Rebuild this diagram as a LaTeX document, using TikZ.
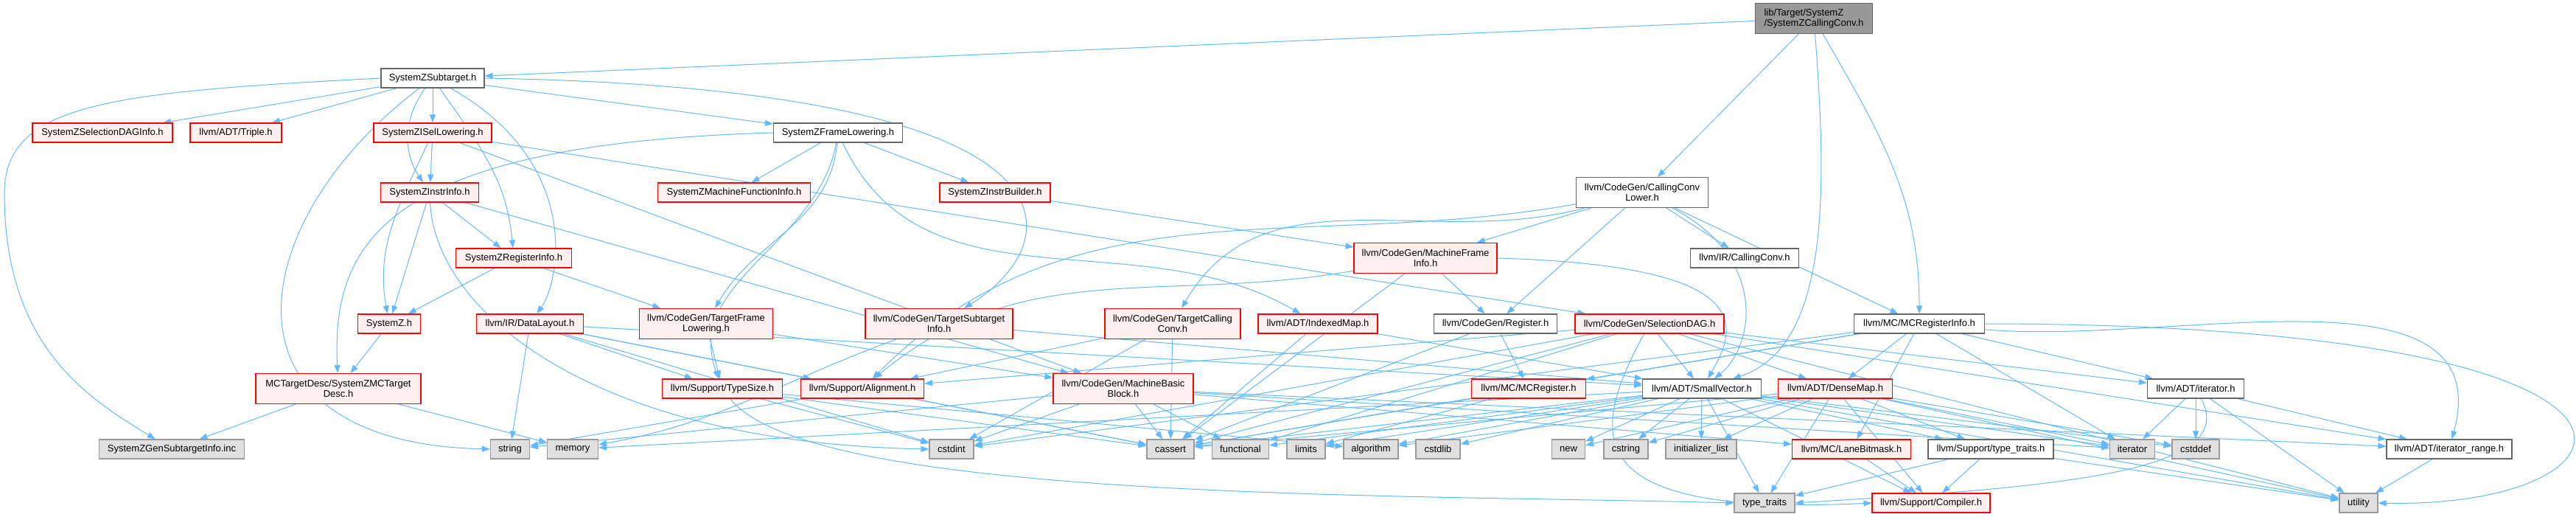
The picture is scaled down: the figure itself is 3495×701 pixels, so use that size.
\documentclass[tikz,border=0pt]{standalone}
\usepackage{fontspec}
\setmainfont{Liberation Sans}
\usetikzlibrary{arrows.meta, backgrounds}
\usepackage{xcolor}
\definecolor{edgeblue}{RGB}{99,184,255}
\definecolor{truncfill}{RGB}{255,240,240}
\definecolor{sysfill}{RGB}{224,224,224}
\definecolor{sysline}{RGB}{153,153,153}
\definecolor{fileline}{RGB}{102,102,102}
\definecolor{rootfill}{RGB}{153,153,153}

\begin{document}
\begin{tikzpicture}[x=1pt, y=-1pt,
      hbox/.style={rectangle, draw, line width=1.1pt, inner sep=0pt,
                   minimum height=26pt, align=center,
                   font=\fontsize{13}{14.5}\selectfont},
      redbox/.style={hbox, draw=red, fill=truncfill},
      whitebox/.style={hbox, draw=fileline, fill=white},
      graybox/.style={hbox, draw=sysline, fill=sysfill},
      rootbox/.style={hbox, draw=fileline, fill=rootfill, align=left},
      tall/.style={minimum height=41pt},
      arr/.style={-{Triangle[length=11pt, width=8pt]}, edgeblue, line width=1pt}
    ]
    \useasboundingbox (0,0) rectangle (3495,701);

    % rank 0 and 1
    \node[rootbox, tall, minimum width=159pt] (root) at (2461,25) {lib/Target/SystemZ\\/SystemZCallingConv.h};
    \node[whitebox, minimum width=140pt] (sub) at (587,106) {SystemZSubtarget.h};

    % rank 2
    \node[redbox, minimum width=190pt] (sdinfo) at (139,180) {SystemZSelectionDAGInfo.h};
    \node[redbox, minimum width=124pt] (triple) at (320,180) {llvm/ADT/Triple.h};
    \node[redbox, minimum width=160pt] (isel) at (587,180) {SystemZISelLowering.h};
    \node[whitebox, minimum width=175pt] (frame) at (1137,180) {SystemZFrameLowering.h};

    % rank 3
    \node[redbox, minimum width=133pt] (instr) at (583,261) {SystemZInstrInfo.h};
    \node[redbox, minimum width=207pt] (mfuncinfo) at (996,261) {SystemZMachineFunctionInfo.h};
    \node[redbox, minimum width=150pt] (ibuild) at (1350,261) {SystemZInstrBuilder.h};
    \node[whitebox, tall, minimum width=179pt] (ccl) at (2228,261) {llvm/CodeGen/CallingConv\\Lower.h};

    % rank 4
    \node[redbox, minimum width=157pt] (reginfo) at (697,350) {SystemZRegisterInfo.h};
    \node[redbox, tall, minimum width=194pt] (mframe) at (1934,350) {llvm/CodeGen/MachineFrame\\Info.h};
    \node[whitebox, minimum width=147pt] (irccv) at (2367,350) {llvm/IR/CallingConv.h};

    % rank 5
    \node[redbox, minimum width=85pt] (szh) at (528,439) {SystemZ.h};
    \node[redbox, minimum width=145pt] (dlayout) at (719,439) {llvm/IR/DataLayout.h};
    \node[redbox, tall, minimum width=181pt] (tfl) at (958,439) {llvm/CodeGen/TargetFrame\\Lowering.h};
    \node[redbox, tall, minimum width=200pt] (tsi) at (1274,439) {llvm/CodeGen/TargetSubtarget\\Info.h};
    \node[redbox, tall, minimum width=184pt] (tcc) at (1591,439) {llvm/CodeGen/TargetCalling\\Conv.h};
    \node[redbox, minimum width=162pt] (imap) at (1788,439) {llvm/ADT/IndexedMap.h};
    \node[whitebox, minimum width=167pt] (reg) at (2029,439) {llvm/CodeGen/Register.h};
    \node[redbox, minimum width=202pt] (sdag) at (2238,439) {llvm/CodeGen/SelectionDAG.h};
    \node[whitebox, minimum width=177pt] (mcri) at (2604,439) {llvm/MC/MCRegisterInfo.h};

    % rank 6
    \node[redbox, tall, minimum width=224pt] (mctd) at (459,527) {MCTargetDesc/SystemZMCTarget\\Desc.h};
    \node[redbox, minimum width=163pt] (tsize) at (980,527) {llvm/Support/TypeSize.h};
    \node[redbox, minimum width=167pt] (align) at (1170,527) {llvm/Support/Alignment.h};
    \node[redbox, tall, minimum width=190pt] (mbb) at (1524,527) {llvm/CodeGen/MachineBasic\\Block.h};
    \node[redbox, minimum width=155pt] (mcreg) at (2074,527) {llvm/MC/MCRegister.h};
    \node[whitebox, minimum width=161pt] (svec) at (2309,527) {llvm/ADT/SmallVector.h};
    \node[redbox, minimum width=155pt] (dmap) at (2490,527) {llvm/ADT/DenseMap.h};
    \node[whitebox, minimum width=131pt] (iterh) at (2979,527) {llvm/ADT/iterator.h};

    % rank 7
    \node[graybox, minimum width=197pt] (geninc) at (233,609) {SystemZGenSubtargetInfo.inc};
    \node[graybox, minimum width=53pt] (string) at (692,609) {string};
    \node[graybox, minimum width=69pt] (memory) at (777,609) {memory};
    \node[graybox, minimum width=60pt] (cstdint) at (1291,609) {cstdint};
    \node[graybox, minimum width=64pt] (cassert) at (1588,609) {cassert};
    \node[graybox, minimum width=77pt] (functional) at (1683,609) {functional};
    \node[graybox, minimum width=52pt] (limits) at (1772,609) {limits};
    \node[graybox, minimum width=74pt] (algorithm) at (1860,609) {algorithm};
    \node[graybox, minimum width=60pt] (cstdlib) at (1951,609) {cstdlib};
    \node[graybox, minimum width=45pt] (new) at (2128,609) {new};
    \node[graybox, minimum width=60pt] (cstring) at (2206,609) {cstring};
    \node[graybox, minimum width=96pt] (initlist) at (2308,609) {initializer\_list};
    \node[redbox, minimum width=161pt] (lanebm) at (2512,609) {llvm/MC/LaneBitmask.h};
    \node[whitebox, minimum width=170pt] (lltt) at (2701,609) {llvm/Support/type\_traits.h};
    \node[graybox, minimum width=61pt] (iterator) at (2893,609) {iterator};
    \node[graybox, minimum width=64pt] (cstddef) at (2979,609) {cstddef};
    \node[whitebox, minimum width=170pt] (iterrange) at (3323,609) {llvm/ADT/iterator\_range.h};

    % rank 8
    \node[graybox, minimum width=82pt] (typetraits) at (2394,682) {type\_traits};
    \node[redbox, minimum width=160pt] (compiler) at (2620,682) {llvm/Support/Compiler.h};
    \node[graybox, minimum width=52pt] (utility) at (3200,682) {utility};

    \begin{scope}[on background layer]
    % root file
    \draw[arr] (root) -- (sub);
    \draw[arr] (root) -- (ccl);
    \draw[arr] (root) .. controls (2478,250) and (2485,470) .. (svec);
    \draw[arr] (root) to[out=-60,in=90] (mcri);

    % SystemZSubtarget.h
    \draw[arr] (sub) -- (sdinfo);
    \draw[arr] (sub) -- (triple);
    \draw[arr] (sub) -- (isel);
    \draw[arr] (sub) to[bend right=35] (instr);
    \draw[arr] (sub) to[out=-55,in=95] (reginfo);
    \draw[arr] (sub) -- (frame);
    \draw[arr] (sub.west) .. controls (150,125) and (8,140) .. (6,260)
               .. controls (5,470) and (120,540) .. (geninc);
    \draw[arr] (sub) .. controls (330,300) and (280,600) .. (string.west);
    \draw[arr] (sub) .. controls (790,220) and (760,380) .. (dlayout);
    \draw[arr] (sub.east) .. controls (1500,120) and (1450,330) .. (tsi);

    % SystemZFrameLowering.h
    \draw[arr] (frame.west) .. controls (520,195) and (450,330) .. (mctd);
    \draw[arr] (frame) -- (mfuncinfo);
    \draw[arr] (frame) -- (ibuild);
    \draw[arr] (frame) to[out=-95,in=60] (tfl);
    \draw[arr] (frame) to[out=-100,in=110] (tsize);
    \draw[arr] (frame) to[out=-65,in=150] (imap);

    % SystemZISelLowering.h
    \draw[arr] (isel) -- (instr);
    \draw[arr] (isel) to[out=-115,in=100] (szh);
    \draw[arr] (isel) -- (mbb);
    \draw[arr] (isel) -- (sdag);

    % SystemZInstrInfo.h
    \draw[arr] (instr) -- (szh);
    \draw[arr] (instr) -- (reginfo);
    \draw[arr] (instr) .. controls (590,420) and (800,600) .. (cstdint.west);
    \draw[arr] (instr) -- (mbb);

    \draw[arr] (reginfo) -- (szh);
    \draw[arr] (reginfo) -- (tfl);
    \draw[arr] (szh) -- (mctd);
    \draw[arr] (mctd) -- (geninc);
    \draw[arr] (mctd) -- (memory);
    \draw[arr] (ibuild) -- (mframe);

    % llvm/IR/DataLayout.h
    \draw[arr] (dlayout) -- (string);
    \draw[arr] (dlayout) -- (tsize);
    \draw[arr] (dlayout) -- (align);
    \draw[arr] (dlayout) -- (svec);
    \draw[arr] (dlayout) -- (cassert);
    \draw[arr] (dlayout) -- (cstdint);

    \draw[arr] (tfl) -- (tsize);
    \draw[arr] (tfl) -- (mbb);
    \draw[arr] (tsi) to[out=200,in=10] (memory);
    \draw[arr] (tsi) -- (svec);
    \draw[arr] (tcc) -- (align);
    \draw[arr] (tcc) -- (cstdint);
    \draw[arr] (tcc) -- (cassert);
    \draw[arr] (imap) -- (cassert);
    \draw[arr] (imap) -- (svec);

    % llvm/CodeGen/CallingConvLower.h
    \draw[arr] (ccl) to[out=190,in=45] (align);
    \draw[arr] (ccl) to[out=195,in=60] (tcc);
    \draw[arr] (ccl) -- (mframe);
    \draw[arr] (ccl) -- (reg);
    \draw[arr] (ccl) .. controls (2400,350) and (2380,470) .. (svec);
    \draw[arr] (ccl) -- (irccv);
    \draw[arr] (ccl) -- (mcri);

    % llvm/CodeGen/MachineFrameInfo.h
    \draw[arr] (mframe) to[out=190,in=40] (align);
    \draw[arr] (mframe) -- (cassert);
    \draw[arr] (mframe) -- (reg);
    \draw[arr] (mframe.east) .. controls (2380,360) and (2360,440) .. (svec);

    \draw[arr] (reg) -- (mcreg);
    \draw[arr] (reg) -- (cassert);
    \draw[arr] (mcreg) -- (cassert);
    \draw[arr] (mcreg) -- (limits);

    % llvm/CodeGen/SelectionDAG.h
    \draw[arr] (sdag) -- (dmap);
    \draw[arr] (sdag) -- (svec);
    \draw[arr] (sdag) -- (iterh);
    \draw[arr] (sdag) -- (iterrange);
    \draw[arr] (sdag) -- (utility);
    \draw[arr] (sdag) -- (align);
    \draw[arr] (sdag) -- (cstdint);
    \draw[arr] (sdag) -- (cassert);
    \draw[arr] (sdag) -- (functional);
    \draw[arr] (sdag) .. controls (2150,600) and (2150,700) .. (compiler.west);

    % llvm/CodeGen/MachineBasicBlock.h
    \draw[arr] (mbb) -- (string);
    \draw[arr] (mbb) -- (cstdint);
    \draw[arr] (mbb) -- (cassert);
    \draw[arr] (mbb) -- (functional);
    \draw[arr] (mbb) -- (iterator);
    \draw[arr] (mbb) -- (iterrange);
    \draw[arr] (mbb) -- (lanebm);

    \draw[arr] (align) -- (string);
    \draw[arr] (align) -- (cassert);
    \draw[arr] (tsize) .. controls (1100,680) and (1900,670) .. (typetraits.west);
    \draw[arr] (tsize) -- (cstdint);
    \draw[arr] (tsize) -- (cassert);
    \draw[arr] (tsize) -- (algorithm);

    % llvm/ADT/SmallVector.h
    \draw[arr] (svec) -- (compiler);
    \draw[arr] (svec) -- (lltt);
    \draw[arr] (svec) -- (algorithm);
    \draw[arr] (svec) -- (cassert);
    \draw[arr] (svec) -- (cstddef);
    \draw[arr] (svec) -- (cstdlib);
    \draw[arr] (svec) -- (cstring);
    \draw[arr] (svec) -- (functional);
    \draw[arr] (svec) -- (initlist);
    \draw[arr] (svec) -- (iterator);
    \draw[arr] (svec) -- (limits);
    \draw[arr] (svec) -- (memory);
    \draw[arr] (svec) -- (new);
    \draw[arr] (svec) -- (typetraits);
    \draw[arr] (svec) -- (utility);

    % llvm/ADT/DenseMap.h
    \draw[arr] (dmap) -- (compiler);
    \draw[arr] (dmap) -- (lltt);
    \draw[arr] (dmap) -- (algorithm);
    \draw[arr] (dmap) -- (cassert);
    \draw[arr] (dmap) -- (cstddef);
    \draw[arr] (dmap) -- (cstring);
    \draw[arr] (dmap) -- (initlist);
    \draw[arr] (dmap) -- (iterator);
    \draw[arr] (dmap) -- (new);
    \draw[arr] (dmap) -- (typetraits);
    \draw[arr] (dmap) -- (utility);

    % llvm/MC/MCRegisterInfo.h
    \draw[arr] (mcri) -- (dmap);
    \draw[arr] (mcri) -- (iterh);
    \draw[arr] (mcri) to[out=-5,in=75] (iterrange);
    \draw[arr] (mcri) -- (lanebm);
    \draw[arr] (mcri) -- (mcreg);
    \draw[arr] (mcri) -- (cassert);
    \draw[arr] (mcri) -- (cstdint);
    \draw[arr] (mcri) -- (iterator);
    \draw[arr] (mcri.east) .. controls (3700,440) and (3600,690) .. (utility.east);

    \draw[arr] (lanebm) -- (compiler);
    \draw[arr] (lltt) -- (compiler);
    \draw[arr] (lltt) -- (typetraits);
    \draw[arr] (lltt) -- (utility);
    \draw[arr] (iterh) -- (iterator);
    \draw[arr] (iterh) -- (cstddef);
    \draw[arr] (iterh) -- (iterrange);
    \draw[arr] (iterh) .. controls (3040,640) and (2800,660) .. (typetraits.east);
    \draw[arr] (iterh) -- (utility);
    \draw[arr] (iterrange) -- (utility);
    \end{scope}
  \end{tikzpicture}
\end{document}
